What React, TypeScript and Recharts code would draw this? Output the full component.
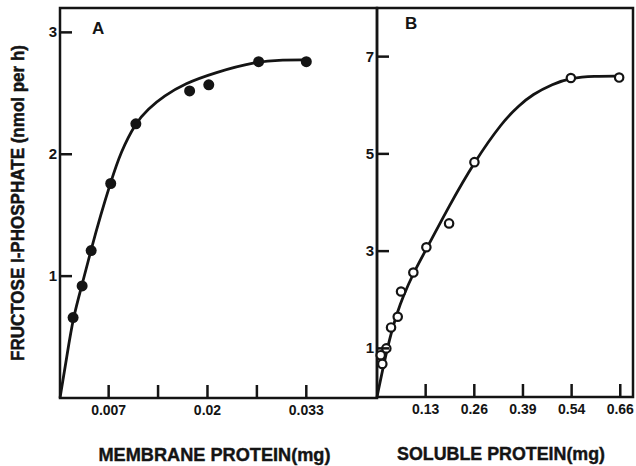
import { ComposedChart, Line, Scatter, XAxis, YAxis, ReferenceArea } from "recharts"

const INK = "#141414"
const FONT = "'Liberation Sans', Arial, sans-serif"

// panel A: membrane protein (mg) vs fructose 1-phosphate (nmol per h)
const membraneX = [0.00232, 0.00351, 0.0047, 0.00727, 0.01058, 0.01765, 0.02017, 0.02673, 0.033]
const membraneY = [0.66, 0.92, 1.21, 1.76, 2.25, 2.52, 2.57, 2.76, 2.76]
const membraneFitX = [0.0006, 0.0015, 0.00232, 0.00351, 0.0047, 0.00594, 0.00727, 0.00859, 0.01058, 0.01213, 0.01434, 0.01699, 0.02097, 0.02628, 0.03, 0.03313]
const membraneFitY = [0, 0.34, 0.66, 0.93, 1.22, 1.5, 1.77, 2.02, 2.26, 2.37, 2.48, 2.58, 2.67, 2.76, 2.775, 2.775]
const membraneTicks = [0.007, 0.0135, 0.02, 0.0265, 0.033]
const membraneTickLabels = ["0.007", "", "0.02", "", "0.033"]
const membraneYTicks = [1, 2, 3]

// panel B: soluble protein (mg)
const solubleX = [0.0099, 0.0142, 0.0249, 0.0375, 0.0554, 0.0642, 0.0971, 0.1319, 0.1926, 0.2603, 0.518, 0.647]
const solubleY = [0.86, 0.68, 1.0, 1.43, 1.65, 2.17, 2.56, 3.08, 3.57, 4.83, 6.56, 6.57]
const solubleFitX = [0, 0.0187, 0.0375, 0.0554, 0.0677, 0.0971, 0.1319, 0.1926, 0.2595, 0.3352, 0.38, 0.4154, 0.469, 0.518, 0.58, 0.647]
const solubleFitY = [0, 0.7, 1.32, 1.76, 2.03, 2.55, 3.04, 3.93, 4.83, 5.66, 6.0, 6.22, 6.44, 6.56, 6.6, 6.6]
const solubleTicks = [0.13, 0.26, 0.39, 0.52, 0.65]
const solubleTickLabels = ["0.13", "0.26", "0.39", "0.54", "0.66"]
const solubleYTicks = [1, 3, 5, 7]

const toRows = (xs: number[], ys: number[]) => xs.map((x, i) => ({ x, y: ys[i] }))

const membranePoints = toRows(membraneX, membraneY)
const membraneFit = toRows(membraneFitX, membraneFitY)
const solublePoints = toRows(solubleX, solubleY)
const solubleFit = toRows(solubleFitX, solubleFitY)

const LeftTick = ({ x, y, payload }: any) => (
  <g>
    <line x1={x} x2={x + 12} y1={y} y2={y} stroke={INK} strokeWidth={2.5} />
    <text x={x - 3} y={y + 5} textAnchor="end" fontSize={15} fontWeight="bold" fontFamily={FONT} fill={INK}>
      {payload.value}
    </text>
  </g>
)

const bottomTick = (ticks: number[], labels: string[]) => ({ x, y, payload }: any) => (
  <g>
    <line x1={x} x2={x} y1={y} y2={y - 13} stroke={INK} strokeWidth={2.5} />
    <text x={x} y={y + 17} textAnchor="middle" fontSize={14} fontWeight="bold" fontFamily={FONT} fill={INK}>
      {labels[ticks.indexOf(payload.value)]}
    </text>
  </g>
)

const xTitle = (text: string, len: number) => ({ viewBox }: any) => (
  <text
    x={viewBox.x + viewBox.width / 2 - 4}
    y={viewBox.y + 63}
    textAnchor="middle"
    fontSize={18}
    fontWeight="bold"
    fontFamily={FONT}
    fill={INK}
    stroke={INK}
    strokeWidth={0.4}
    textLength={len}
    lengthAdjust="spacingAndGlyphs"
  >
    {text}
  </text>
)

const yTitle = ({ viewBox }: any) => {
  const cx = viewBox.x + 18
  const cy = viewBox.y + viewBox.height / 2
  return (
    <text
      x={cx}
      y={cy}
      transform={`rotate(-90, ${cx}, ${cy})`}
      textAnchor="middle"
      dominantBaseline="central"
      fontSize={18}
      fontWeight="bold"
      fontFamily={FONT}
      fill={INK}
      stroke={INK}
      strokeWidth={0.5}
      textLength={316}
      lengthAdjust="spacingAndGlyphs"
    >
      FRUCTOSE I-PHOSPHATE (nmol per h)
    </text>
  )
}

const panelLetter = (letter: string, dx: number, dy: number) => ({ viewBox }: any) => (
  <text x={viewBox.x + dx} y={viewBox.y + dy} fontSize={17} fontWeight="bold" fontFamily={FONT} fill={INK}>
    {letter}
  </text>
)

const filledDot = (p: any) => <circle cx={p.cx} cy={p.cy} r={5.5} fill={INK} />
const openDot = (p: any) => <circle cx={p.cx} cy={p.cy} r={4.2} fill="#fff" stroke={INK} strokeWidth={2.2} />

const aDomain = [0.0006, 0.0423]
const bDomain = [0, 0.684]

export default function App() {
  return (
    <div style={{ position: "absolute", left: 0, top: 0, width: 636, height: 466, background: "#fff" }}>
      <div style={{ position: "absolute", left: 0, top: 0 }}>
        <ComposedChart width={380} height={466} margin={{ top: 8, right: 3, bottom: 0, left: 0 }}>
          <XAxis
            type="number"
            dataKey="x"
            domain={aDomain}
            ticks={membraneTicks}
            height={68}
            axisLine={false}
            tickLine={false}
            tickSize={0}
            tickMargin={0}
            tick={bottomTick(membraneTicks, membraneTickLabels)}
            label={{ content: xTitle("MEMBRANE PROTEIN(mg)", 232) }}
          />
          <YAxis
            type="number"
            dataKey="y"
            domain={[0, 3.2]}
            ticks={membraneYTicks}
            width={60}
            axisLine={false}
            tickLine={false}
            tickSize={0}
            tickMargin={0}
            tick={LeftTick}
            label={{ content: yTitle }}
          />
          <ReferenceArea
            x1={aDomain[0]}
            x2={aDomain[1]}
            y1={0}
            y2={3.2}
            fill="none"
            stroke={INK}
            strokeWidth={2.5}
            ifOverflow="visible"
            label={{ content: panelLetter("A", 32, 25.5) }}
          />
          <Line
            data={membraneFit}
            dataKey="y"
            type="basis"
            stroke={INK}
            strokeWidth={2.8}
            dot={false}
            isAnimationActive={false}
          />
          <Scatter data={membranePoints} dataKey="y" shape={filledDot} isAnimationActive={false} />
        </ComposedChart>
      </div>
      <div style={{ position: "absolute", left: 340, top: 0 }}>
        <ComposedChart width={296} height={466} margin={{ top: 8, right: 3, bottom: 0, left: 0 }}>
          <XAxis
            type="number"
            dataKey="x"
            domain={bDomain}
            ticks={solubleTicks}
            height={69}
            axisLine={false}
            tickLine={false}
            tickSize={0}
            tickMargin={0}
            tick={bottomTick(solubleTicks, solubleTickLabels)}
            label={{ content: xTitle("SOLUBLE PROTEIN(mg)", 208) }}
          />
          <YAxis
            type="number"
            dataKey="y"
            domain={[0, 8]}
            ticks={solubleYTicks}
            width={37}
            axisLine={false}
            tickLine={false}
            tickSize={0}
            tickMargin={0}
            tick={LeftTick}
          />
          <ReferenceArea
            x1={bDomain[0]}
            x2={bDomain[1]}
            y1={0}
            y2={8}
            fill="none"
            stroke={INK}
            strokeWidth={2.5}
            ifOverflow="visible"
            label={{ content: panelLetter("B", 28, 20.5) }}
          />
          <Line
            data={solubleFit}
            dataKey="y"
            type="basis"
            stroke={INK}
            strokeWidth={2.8}
            dot={false}
            isAnimationActive={false}
          />
          <Scatter data={solublePoints} dataKey="y" shape={openDot} isAnimationActive={false} />
        </ComposedChart>
      </div>
    </div>
  )
}
